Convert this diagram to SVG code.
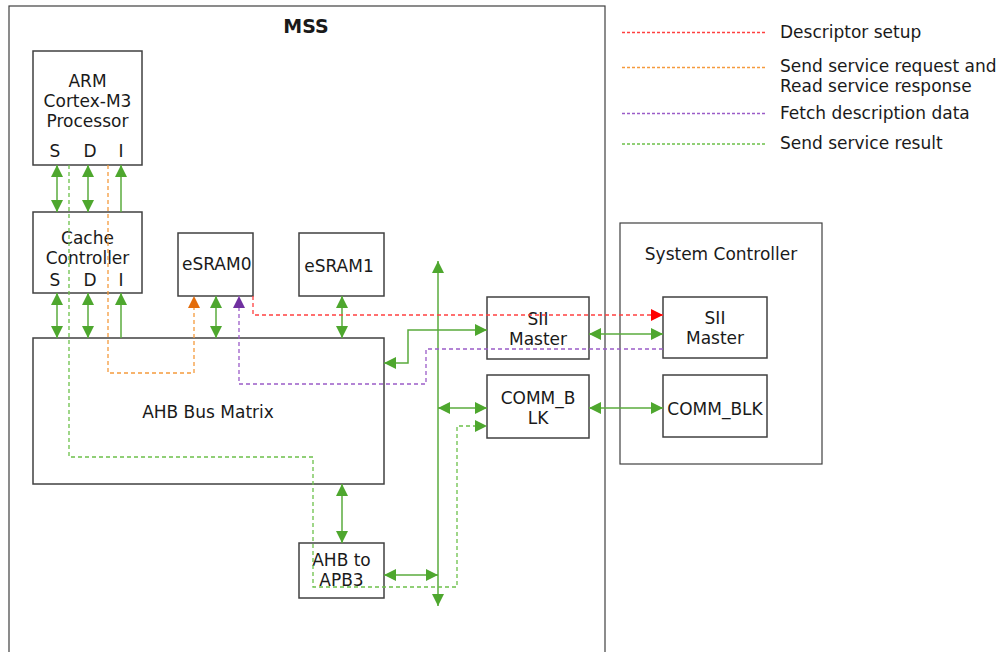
<svg xmlns="http://www.w3.org/2000/svg" width="1001" height="652" viewBox="0 0 1001 652">
<style>
text{font-family:"DejaVu Sans",Verdana,sans-serif;font-size:17px;fill:#1a1a1a}
.c{text-anchor:middle}
.box{fill:none;stroke:#404040;stroke-width:1.5}
.frame{fill:none;stroke:#404040;stroke-width:1.2}
.g{fill:none;stroke:#5aab3c;stroke-width:1.5}
.gd{fill:none;stroke:#6cc04a;stroke-width:1.3;stroke-dasharray:4 3}
.rd{fill:none;stroke:#ff4040;stroke-width:1.3;stroke-dasharray:4 3}
.od{fill:none;stroke:#f59a3c;stroke-width:1.3;stroke-dasharray:4 3}
.pd{fill:none;stroke:#9b5cc8;stroke-width:1.3;stroke-dasharray:4 3}
</style>
<defs>
<marker id="ag" viewBox="0 0 12 12" refX="12" refY="6" markerWidth="12" markerHeight="12" markerUnits="userSpaceOnUse" orient="auto-start-reverse"><path d="M0,0 L12,6 L0,12 z" fill="#4ea72e"/></marker>
<marker id="ar" viewBox="0 0 12 12" refX="12" refY="6" markerWidth="12" markerHeight="12" markerUnits="userSpaceOnUse" orient="auto"><path d="M0,0 L12,6 L0,12 z" fill="#ff0000"/></marker>
<marker id="ao" viewBox="0 0 12 12" refX="12" refY="6" markerWidth="12" markerHeight="12" markerUnits="userSpaceOnUse" orient="auto"><path d="M0,0 L12,6 L0,12 z" fill="#e36c0a"/></marker>
<marker id="ap" viewBox="0 0 12 12" refX="12" refY="6" markerWidth="12" markerHeight="12" markerUnits="userSpaceOnUse" orient="auto"><path d="M0,0 L12,6 L0,12 z" fill="#7030a0"/></marker>
</defs>
<rect width="1001" height="652" fill="#fff"/>

<g id="mss">
<rect class="frame" x="9" y="6" width="596" height="660"/>
<text class="c" x="306" y="33" style="font-weight:bold;font-size:19px">MSS</text>
</g>
<g id="system-controller">
<rect class="frame" x="620" y="223" width="202" height="241"/>
<text class="c" x="721" y="260">System Controller</text>
</g>

<g id="arm">
<rect class="box" x="33" y="51" width="109" height="114"/>
<text class="c" x="87.5" y="87">ARM</text>
<text class="c" x="87.5" y="107">Cortex-M3</text>
<text class="c" x="87.5" y="127">Processor</text>
<text class="c" x="55" y="157">S</text>
<text class="c" x="90" y="157">D</text>
<text class="c" x="121" y="157">I</text>
</g>
<g id="cache">
<rect class="box" x="33" y="212" width="109" height="81"/>
<text class="c" x="87.5" y="244">Cache</text>
<text class="c" x="87.5" y="264">Controller</text>
<text class="c" x="55" y="286">S</text>
<text class="c" x="90" y="286">D</text>
<text class="c" x="121" y="286">I</text>
</g>
<g id="esram0">
<rect class="box" x="178" y="233" width="75" height="63"/>
<text x="182" y="270">eSRAM0</text>
</g>
<g id="esram1">
<rect class="box" x="299" y="233" width="85" height="63"/>
<text class="c" x="339" y="272">eSRAM1</text>
</g>
<g id="ahb-bus-matrix">
<rect class="box" x="33" y="338" width="351" height="146"/>
<text class="c" x="208" y="418">AHB Bus Matrix</text>
</g>
<g id="sii-master-mss">
<rect class="box" x="487" y="297" width="102" height="62"/>
<text class="c" x="538" y="325">SII</text>
<text class="c" x="538" y="345">Master</text>
</g>
<g id="comm-blk-mss">
<rect class="box" x="487" y="375" width="102" height="63"/>
<text class="c" x="538" y="404">COMM_B</text>
<text class="c" x="538" y="424">LK</text>
</g>
<g id="sii-master-sc">
<rect class="box" x="663" y="297" width="104" height="61"/>
<text class="c" x="715" y="324">SII</text>
<text class="c" x="715" y="344">Master</text>
</g>
<g id="comm-blk-sc">
<rect class="box" x="663" y="375" width="104" height="62"/>
<text class="c" x="715" y="415">COMM_BLK</text>
</g>
<g id="ahb-to-apb3">
<rect class="box" x="299" y="543" width="85" height="55"/>
<text class="c" x="341.5" y="566">AHB to</text>
<text class="c" x="341.5" y="586">APB3</text>
</g>

<g id="connectors">
<path class="g" d="M57,165 V212" marker-start="url(#ag)" marker-end="url(#ag)"/>
<path class="g" d="M88,165 V212" marker-start="url(#ag)" marker-end="url(#ag)"/>
<path class="g" d="M121,212 V165" marker-end="url(#ag)"/>
<path class="g" d="M57,293 V338" marker-start="url(#ag)" marker-end="url(#ag)"/>
<path class="g" d="M88,293 V338" marker-start="url(#ag)" marker-end="url(#ag)"/>
<path class="g" d="M121,338 V293" marker-end="url(#ag)"/>
<path class="g" d="M216,296 V338" marker-start="url(#ag)" marker-end="url(#ag)"/>
<path class="g" d="M342,296 V338" marker-start="url(#ag)" marker-end="url(#ag)"/>
<path class="g" d="M438,261 V606" marker-start="url(#ag)" marker-end="url(#ag)"/>
<path class="g" d="M487,330 H408 V363 H384" marker-start="url(#ag)" marker-end="url(#ag)"/>
<path class="g" d="M589,334 H663" marker-start="url(#ag)" marker-end="url(#ag)"/>
<path class="g" d="M438,408 H487" marker-start="url(#ag)" marker-end="url(#ag)"/>
<path class="g" d="M589,408 H663" marker-start="url(#ag)" marker-end="url(#ag)"/>
<path class="g" d="M342,484 V543" marker-start="url(#ag)" marker-end="url(#ag)"/>
<path class="g" d="M384,575 H438" marker-start="url(#ag)" marker-end="url(#ag)"/>

<path class="rd" d="M253,296 V315 H663" marker-end="url(#ar)"/>
<path class="od" d="M108,165 V373 H194 V296" marker-end="url(#ao)"/>
<path class="pd" d="M663,349 H426 V384 H239 V296" marker-end="url(#ap)"/>
<path class="gd" d="M69,165 V457 H313 V587 H457 V426 H487" marker-end="url(#ag)"/>
</g>

<g id="legend">
<line class="rd" x1="622" y1="32.5" x2="767" y2="32.5" style="stroke-dasharray:3 2"/>
<text x="780" y="38">Descriptor setup</text>
<line class="od" x1="622" y1="67.5" x2="767" y2="67.5" style="stroke-dasharray:3 2"/>
<text x="780" y="71.5">Send service request and</text>
<text x="780" y="91.5">Read service response</text>
<line class="pd" x1="622" y1="113.5" x2="767" y2="113.5" style="stroke-dasharray:3 2"/>
<text x="780" y="119">Fetch description data</text>
<line class="gd" x1="622" y1="144" x2="767" y2="144" style="stroke-dasharray:3 2"/>
<text x="780" y="149">Send service result</text>
</g>
</svg>
